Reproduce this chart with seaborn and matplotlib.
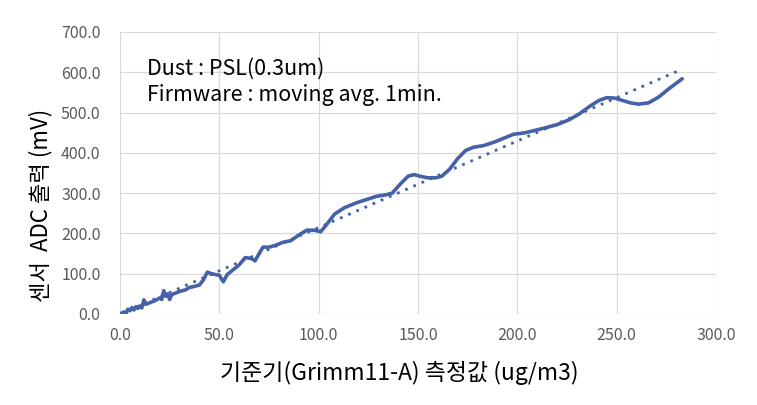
import numpy as np
import pandas as pd
import matplotlib
matplotlib.use("Agg")
import matplotlib.pyplot as plt
import seaborn as sns

# reference (Grimm11-A) values, ug/m3
ref_x = [0, 2, 3, 4, 5, 6, 7, 8, 9, 10, 11, 12, 13, 14, 16, 18, 20, 21, 22, 23,
         24, 25, 26, 28, 30, 33, 35, 37, 40, 42, 44, 46, 48, 50, 52, 54, 57, 60,
         63, 66, 68, 70, 72, 75, 78, 82, 86, 90, 94, 98, 101, 104, 108, 113, 119,
         124, 129, 134, 137, 141, 145, 148, 151, 155, 159, 162, 166, 170, 174,
         178, 183, 188, 193, 198, 204, 209, 214, 220, 226, 231, 236, 241, 245,
         249, 253, 257, 261, 266, 271, 276, 283]
# sensor ADC output, mV
adc_mv = [0, 5, 2, 12, 8, 16, 10, 18, 14, 20, 15, 35, 24, 26, 30, 34, 40, 36, 58,
          44, 50, 36, 48, 52, 56, 60, 66, 68, 72, 85, 104, 100, 98, 96, 80, 98,
          110, 122, 140, 138, 132, 150, 166, 166, 170, 178, 182, 196, 208, 208,
          204, 222, 248, 264, 276, 284, 292, 296, 300, 322, 342, 346, 342, 338,
          338, 342, 360, 386, 406, 414, 418, 426, 436, 446, 450, 456, 462, 470,
          482, 496, 514, 530, 537, 536, 530, 524, 521, 524, 538, 558, 584]

x_ticks = [0, 50, 100, 150, 200, 250, 300]
y_ticks = [0, 100, 200, 300, 400, 500, 600, 700]
x_label = "기준기(Grimm11-A) 측정값 (ug/m3)"
y_label = "센서  ADC 출력 (mV)"
notes = ["Dust : PSL(0.3um)", "Firmware : moving avg. 1min."]

df = pd.DataFrame({"x": ref_x, "y": adc_mv})

sns.set_theme(style="whitegrid")
plt.rcParams["font.family"] = ["Noto Sans CJK KR", "DejaVu Sans"]

line_color = "#4562A8"
fig = plt.figure(figsize=(7.57, 4.05), dpi=100)
ax = fig.add_axes([120 / 757, 1 - 314 / 405, (716 - 120) / 757, (314 - 32) / 405])

sns.lineplot(data=df, x="x", y="y", ax=ax, color=line_color, linewidth=2.6,
             sort=False)
sns.regplot(data=df, x="x", y="y", ax=ax, scatter=False, ci=None,
            color=line_color,
            line_kws={"linestyle": (0, (1, 2.2)), "linewidth": 2.0})

ax.set_xlim(0, 300)
ax.set_ylim(0, 700)
ax.set_xticks(x_ticks)
ax.set_yticks(y_ticks)
ax.set_xticklabels([f"{v:.1f}" for v in x_ticks])
ax.set_yticklabels([f"{v:.1f}" for v in y_ticks])
ax.tick_params(axis="both", labelsize=11.5, labelcolor="#595959", length=0)
ax.tick_params(axis="y", pad=14)
ax.tick_params(axis="x", pad=9)
ax.grid(True, color="#d9d9d9", linewidth=0.9)
for s in ax.spines.values():
    s.set_visible(False)
ax.set_facecolor("white")

ax.set_xlabel(x_label, fontsize=16.5, color="black")
ax.xaxis.set_label_coords(0.468, -0.165)
ax.set_ylabel(y_label, fontsize=16, color="black")
ax.yaxis.set_label_coords(-0.113, 0.385)

ax.text(0.045, 0.87, notes[0], transform=ax.transAxes, fontsize=15.5,
        va="center", ha="left", color="black")
ax.text(0.045, 0.775, notes[1], transform=ax.transAxes, fontsize=15.5,
        va="center", ha="left", color="black")

fig.savefig("out.png", dpi=100, facecolor="white")
